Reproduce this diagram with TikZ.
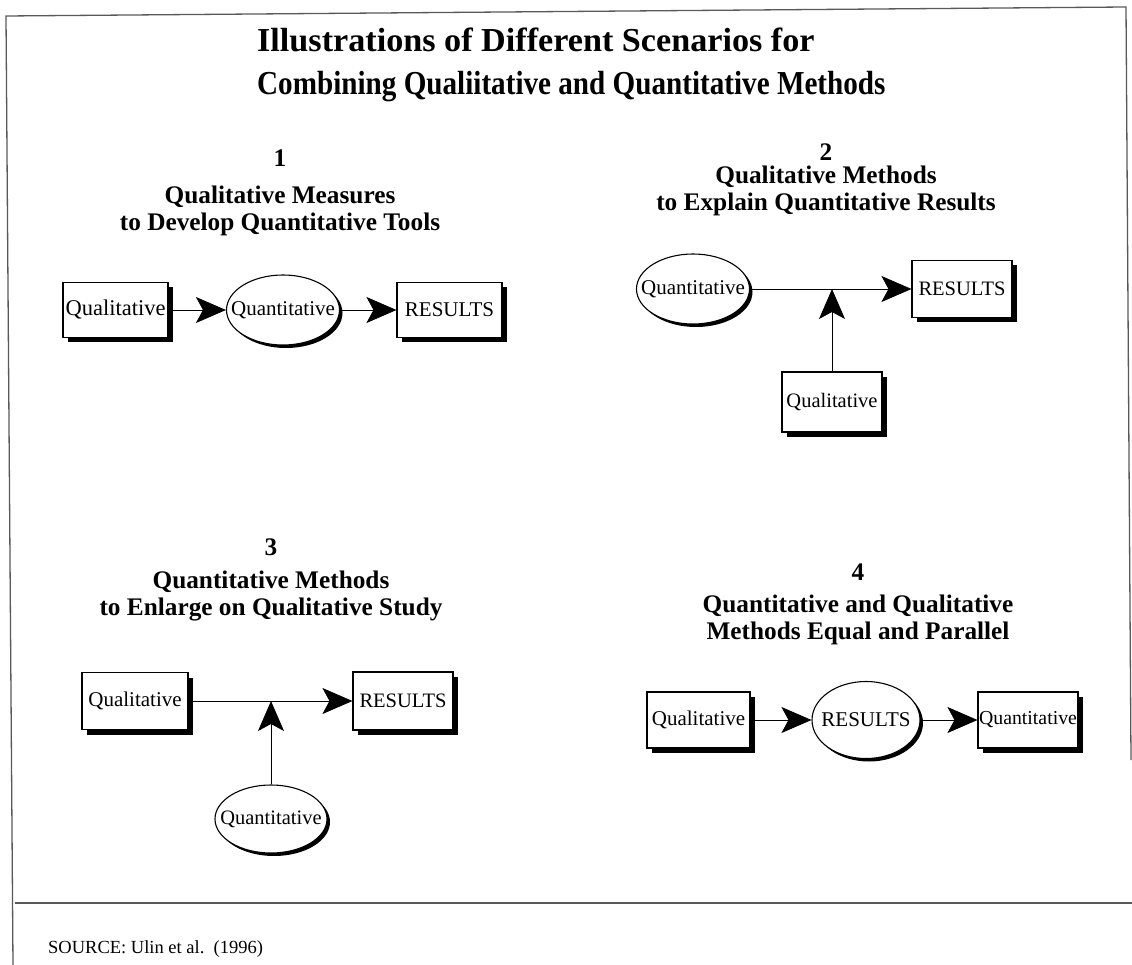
\documentclass[tikz,border=0pt]{standalone}
\usepackage{fontspec}
\setmainfont{Liberation Serif}
\usetikzlibrary{arrows.meta,shapes.geometric,shadows}

\begin{document}
\begin{tikzpicture}[x=1pt,y=-1pt,
  box/.style={draw,line width=1.1pt,fill=white,inner sep=0pt,
    minimum width=102pt,minimum height=56pt,
    font=\fontsize{21}{21}\selectfont,
    drop shadow={shadow xshift=5pt,shadow yshift=-5pt,fill=black,opacity=1}},
  oval/.style={ellipse,draw,line width=1.1pt,fill=white,inner sep=0pt,
    minimum width=112pt,minimum height=70pt,
    font=\fontsize{21}{21}\selectfont,
    drop shadow={shadow xshift=3pt,shadow yshift=-3pt,fill=black,opacity=1}},
  link/.style={line width=0.8pt,-{Stealth[length=30pt,width=26pt,inset=7pt]}},
  head/.style={font=\bfseries\fontsize{25.3}{27}\selectfont,align=center,inner sep=0pt,anchor=north},
  frame/.style={draw=black!65,line width=1.3pt},
]
\useasboundingbox (0,0) rectangle (1132,965);

% page frame and source rule
\draw[frame] (13,965) -- (6,16) -- (1126,7) -- (1131,760);
\draw[frame] (15,903) -- (1132,903);

% title
\node[font=\bfseries\fontsize{33.5}{33.5}\selectfont,anchor=base west,inner sep=0pt] (title1) at (257,52) {\scalebox{1.02}[1]{Illustrations of Different Scenarios for}};
\node[font=\bfseries\fontsize{33.5}{33.5}\selectfont,anchor=base west,inner sep=0pt] (title2) at (257,95) {\scalebox{0.87}[1]{Combining Qualiitative and Quantitative Methods}};

% scenario 1
\node[head] (h1) at (280,150) {1\\[10pt]Qualitative Measures\\to Develop Quantitative Tools};
\node[box,minimum width=105pt,minimum height=55pt,font=\fontsize{22.5}{22.5}\selectfont] (q1) at (115.5,310) {Qualitative};
\node[oval,minimum width=113pt] (n1) at (283,310) {\makebox[0pt]{Quantitative}};
\node[box,minimum width=105pt,minimum height=55pt] (r1) at (449.5,310) {RESULTS};
\draw[link] (q1) -- (n1);
\draw[link] (n1) -- (r1);

% scenario 2
\node[head] (h2) at (826,144) {2\\[-4pt]Qualitative Methods\\to Explain Quantitative Results};
\node[oval,minimum width=113pt] (n2) at (693,289) {\makebox[0pt]{Quantitative}};
\node[box,minimum width=100pt,minimum height=57pt,font=\fontsize{20.5}{20.5}\selectfont] (r2) at (962,289) {RESULTS};
\node[box,minimum width=100pt,minimum height=60pt,font=\fontsize{20.5}{20.5}\selectfont] (q2) at (832,402) {Qualitative};
\coordinate (j2) at (832,289);
\draw[link] (n2) -- (r2);
\draw[link] (q2) -- (j2);

% scenario 3
\node[head] (h3) at (271,539) {3\\[6pt]Quantitative Methods\\to Enlarge on Qualitative Study};
\node[box,minimum width=106pt,minimum height=57pt] (q3) at (135,701) {Qualitative};
\node[box,minimum width=100pt,minimum height=58pt,font=\fontsize{20.5}{20.5}\selectfont] (r3) at (403,701) {RESULTS};
\node[oval,minimum width=112pt,minimum height=68pt,font=\fontsize{20.5}{20.5}\selectfont] (n3) at (271,819) {\makebox[0pt]{Quantitative}};
\coordinate (j3) at (271,701);
\draw[link] (q3) -- (r3);
\draw[link] (n3) -- (j3);

% scenario 4
\node[head] (h4) at (858,564) {4\\[5pt]Quantitative and Qualitative\\Methods Equal and Parallel};
\node[box,minimum width=103pt,minimum height=56pt] (q4) at (698.5,720) {Qualitative};
\node[oval,minimum width=108pt,minimum height=77pt] (n4) at (866,720) {\makebox[0pt]{RESULTS}};
\node[box,minimum width=100pt,minimum height=56pt,font=\fontsize{19.8}{19.8}\selectfont] (r4) at (1028,720) {Quantitative};
\draw[link] (q4) -- (n4);
\draw[link] (n4) -- (r4);

% source line
\node[font=\fontsize{18.5}{18.5}\selectfont,anchor=base west,inner sep=0pt] (src) at (48,953) {SOURCE: Ulin et al.\ \ (1996)};
\end{tikzpicture}
\end{document}
